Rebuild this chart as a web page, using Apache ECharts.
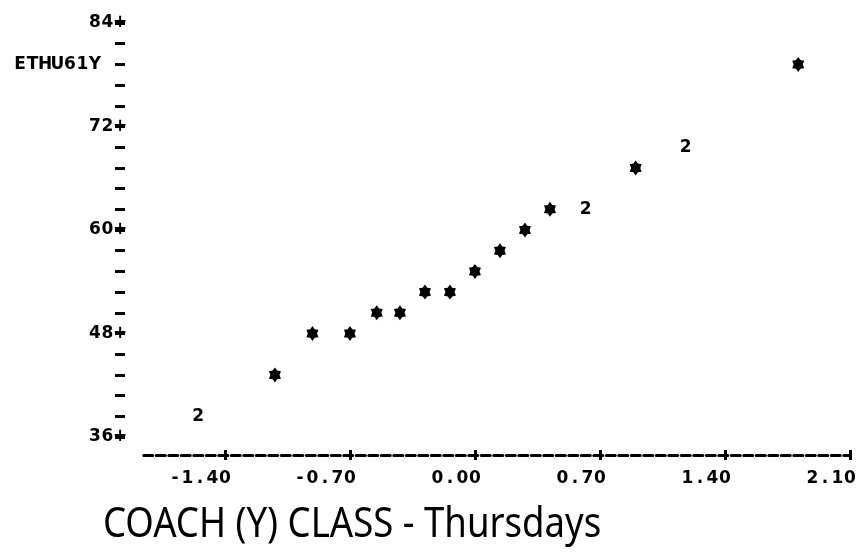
<!DOCTYPE html>
<html>
<head>
<meta charset="utf-8">
<script src="https://cdn.jsdelivr.net/npm/echarts@6/dist/echarts.min.js"></script>
<style>
  html, body { margin: 0; padding: 0; background: #fff; }
  #chart { width: 856px; height: 555px; }
</style>
</head>
<body>
<div id="chart"></div>
<script>
// Normal-score plot of ETHU61Y, printed in line-printer style.
const yName = 'ETHU61Y';
const titleText = 'COACH (Y) CLASS - Thursdays';

// x axis: normal scores
const xTickValues = [-1.4, -0.7, 0, 0.7, 1.4, 2.1];
const xTickLabels = ['-1.40', '-0.70', '0.00', '0.70', '1.40', '2.10'];
const xMin = -1.87;
const xMax = 2.1;

// y axis: ETHU61Y, one print row every 2.4
const yMin = 36;
const yMax = 84;
const yRow = 2.4;
const yMajorStep = 12;
const yNameRow = 79.2;

// plotted points (count 2 = two observations in the same print cell)
const scores = [-1.55, -1.12, -0.91, -0.70, -0.55, -0.42, -0.28, -0.14, 0.00, 0.14, 0.28, 0.42, 0.62, 0.90, 1.18, 1.81];
const values = [38.4, 43.2, 48.0, 48.0, 50.4, 50.4, 52.8, 52.8, 55.2, 57.6, 60.0, 62.4, 62.4, 67.2, 69.6, 79.2];
const counts = [2, 1, 1, 1, 1, 1, 1, 1, 1, 1, 1, 1, 2, 1, 2, 1];

const CELL = 12.5;            // width of one printer column in px
const printFont = { fontFamily: 'DejaVu Sans', fontWeight: 'bold', fontSize: 17, color: '#000' };

// Lay a string out on the printer grid, one fixed-width cell per character.
function cells(str) {
  return str.split('').map(ch => '{c|' + ch + '}').join('');
}
function blanks(n) {
  let s = '';
  for (let i = 0; i < n; i++) s += '{c| }';
  return s;
}

// Heavy six-pointed print star
function starPath() {
  const pts = [];
  for (let k = 0; k < 12; k++) {
    const a = (-90 + 30 * k) * Math.PI / 180;
    const r = k % 2 === 0 ? 10 : 6.6;
    pts.push((r * Math.cos(a)).toFixed(3) + ' ' + (r * Math.sin(a)).toFixed(3));
  }
  return 'path://M' + pts.join(' L') + ' Z';
}

const singles = [];
const doubles = [];
scores.forEach((s, i) => {
  if (counts[i] > 1) doubles.push([s, values[i], counts[i]]);
  else singles.push([s, values[i]]);
});

const chart = echarts.init(document.getElementById('chart'), null, { renderer: 'canvas' });

const tickStyle = { color: '#000', width: 3 };

chart.setOption({
  backgroundColor: '#fff',
  animation: false,
  grid: { left: 141, right: 6, top: 23, bottom: 118, containLabel: false, outerBoundsMode: 'none' },
  xAxis: [
    {
      type: 'value', min: xMin, max: xMax, position: 'bottom', offset: 18,
      splitLine: { show: false },
      axisLine: { show: true, onZero: false, lineStyle: { color: '#000', width: 3, type: [9, 3.5], dashOffset: 9.7 } },
      axisTick: { show: true, customValues: xTickValues, length: 5, lineStyle: tickStyle },
      axisLabel: {
        show: true, customValues: xTickValues, margin: 15, align: 'center',
        formatter: v => {
          let idx = 0;
          xTickValues.forEach((t, i) => { if (Math.abs(t - v) < Math.abs(xTickValues[idx] - v)) idx = i; });
          const s = xTickLabels[idx];
          return cells(s) + blanks(s.length - 1);
        },
        rich: { c: Object.assign({ width: CELL, align: 'center' }, printFont) }
      }
    },
    {
      type: 'value', min: xMin, max: xMax, position: 'bottom', offset: 18,
      splitLine: { show: false },
      axisLine: { show: false, onZero: false },
      axisLabel: { show: false },
      axisTick: { show: true, inside: true, customValues: xTickValues, length: 5, lineStyle: tickStyle }
    }
  ],
  yAxis: {
    type: 'value', min: yMin, max: yMax, interval: yRow, position: 'left', offset: 16,
    splitLine: { show: false },
    axisLine: { show: false, onZero: false },
    axisTick: { show: true, length: 10, lineStyle: tickStyle },
    axisLabel: {
      show: true, margin: -1.25,
      formatter: v => {
        const q = v / yMajorStep;
        if (Math.abs(q - Math.round(q)) < 1e-6) return cells(String(Math.round(v)) + '+');
        if (Math.abs(v - yNameRow) < 1e-6) return cells(yName) + blanks(2);
        return '';
      },
      rich: { c: Object.assign({ width: CELL, align: 'center' }, printFont) }
    }
  },
  series: [
    {
      name: 'single', type: 'scatter', xAxisIndex: 0, data: singles,
      symbol: starPath(), symbolSize: [12, 15], symbolKeepAspect: false,
      itemStyle: { color: '#000', opacity: 1 }, silent: true
    },
    {
      name: 'double', type: 'scatter', xAxisIndex: 0, data: doubles,
      symbol: 'circle', symbolSize: 1,
      itemStyle: { color: 'rgba(0,0,0,0)' }, silent: true,
      label: {
        show: true, position: 'inside',
        formatter: p => String(p.value[2]),
        fontFamily: printFont.fontFamily, fontWeight: 'bold', fontSize: 17,
        color: '#000', textBorderWidth: 0, opacity: 1
      }
    }
  ],
  graphic: [
    {
      type: 'text', x: 103, y: 525, scaleX: 0.87,
      style: {
        text: titleText, fill: '#000',
        font: '42px "Noto Sans"', align: 'left', verticalAlign: 'middle'
      }
    }
  ]
});
</script>
</body>
</html>
